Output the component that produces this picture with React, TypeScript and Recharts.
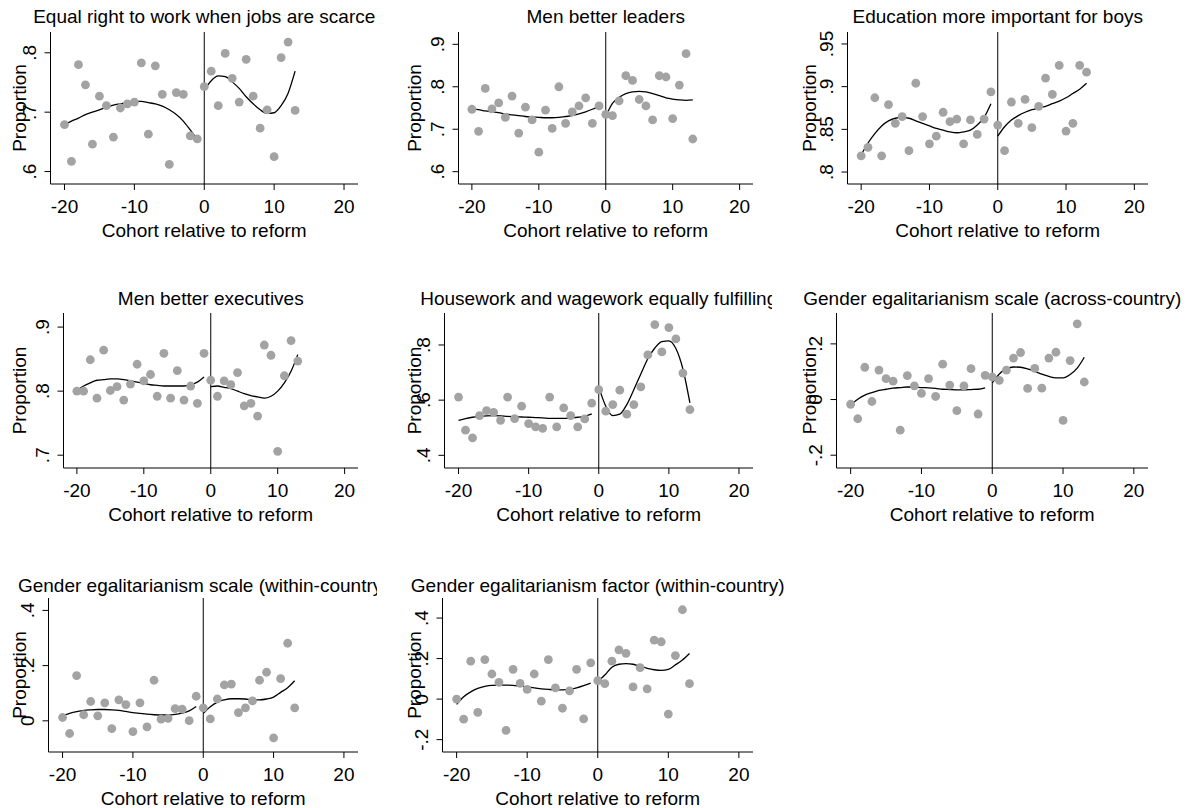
import { ComposedChart, Scatter, Line, XAxis, YAxis, ReferenceLine } from 'recharts'

const FONT = '"Liberation Sans", Arial, Helvetica, sans-serif'
const FS = 19

// cohort positions relative to the reform year
const cohorts = [-20, -19, -18, -17, -16, -15, -14, -13, -12, -11, -10, -9, -8, -7, -6, -5, -4, -3, -2, -1, 0, 1, 2, 3, 4, 5, 6, 7, 8, 9, 10, 11, 12, 13]
const cohortsPre = [-20, -19, -18, -17, -16, -15, -14, -13, -12, -11, -10, -9, -8, -7, -6, -5, -4, -3, -2, -1]
const cohortsPost = [0, 1, 2, 3, 4, 5, 6, 7, 8, 9, 10, 11, 12, 13]
const xTicks = [-20, -10, 0, 10, 20]

// Equal right to work when jobs are scarce
const equalRightPts = [0.679, 0.617, 0.78, 0.746, 0.646, 0.727, 0.711, 0.658, 0.707, 0.714, 0.717, 0.783, 0.663, 0.778, 0.73, 0.612, 0.733, 0.73, 0.66, 0.655, 0.743, 0.769, 0.711, 0.799, 0.757, 0.717, 0.789, 0.727, 0.673, 0.704, 0.625, 0.792, 0.818, 0.703]
const equalRightPre = [0.679, 0.685, 0.69, 0.696, 0.7, 0.704, 0.708, 0.712, 0.714, 0.716, 0.718, 0.718, 0.716, 0.714, 0.71, 0.704, 0.696, 0.685, 0.67, 0.654]
const equalRightPost = [0.737, 0.753, 0.761, 0.76, 0.751, 0.74, 0.726, 0.714, 0.704, 0.698, 0.699, 0.711, 0.732, 0.769]

// Men better leaders
const leadersPts = [0.747, 0.695, 0.796, 0.748, 0.762, 0.728, 0.778, 0.691, 0.752, 0.722, 0.646, 0.745, 0.702, 0.8, 0.714, 0.741, 0.755, 0.774, 0.714, 0.755, 0.735, 0.732, 0.767, 0.826, 0.815, 0.77, 0.755, 0.722, 0.826, 0.823, 0.725, 0.804, 0.878, 0.677]
const leadersPre = [0.748, 0.746, 0.743, 0.741, 0.739, 0.736, 0.734, 0.732, 0.73, 0.729, 0.728, 0.727, 0.727, 0.728, 0.73, 0.732, 0.736, 0.741, 0.747, 0.754]
const leadersPost = [0.73, 0.761, 0.775, 0.784, 0.788, 0.789, 0.788, 0.784, 0.779, 0.774, 0.771, 0.769, 0.768, 0.769]

// Education more important for boys
const eduPts = [0.819, 0.829, 0.887, 0.819, 0.879, 0.857, 0.865, 0.825, 0.904, 0.865, 0.833, 0.842, 0.87, 0.859, 0.862, 0.833, 0.861, 0.844, 0.862, 0.894, 0.855, 0.825, 0.882, 0.857, 0.885, 0.852, 0.877, 0.91, 0.891, 0.925, 0.848, 0.857, 0.925, 0.917]
const eduPre = [0.82, 0.834, 0.845, 0.854, 0.86, 0.863, 0.864, 0.863, 0.86, 0.857, 0.854, 0.851, 0.849, 0.847, 0.846, 0.847, 0.849, 0.855, 0.864, 0.88]
const eduPost = [0.842, 0.853, 0.861, 0.866, 0.87, 0.873, 0.875, 0.877, 0.88, 0.883, 0.887, 0.892, 0.897, 0.904]

// Men better executives
const execPts = [0.8, 0.8, 0.849, 0.789, 0.864, 0.801, 0.807, 0.786, 0.811, 0.842, 0.816, 0.826, 0.792, 0.859, 0.789, 0.832, 0.786, 0.808, 0.781, 0.859, 0.817, 0.792, 0.816, 0.81, 0.829, 0.777, 0.781, 0.761, 0.872, 0.856, 0.706, 0.824, 0.879, 0.847]
const execPre = [0.801, 0.808, 0.813, 0.817, 0.818, 0.819, 0.819, 0.818, 0.816, 0.814, 0.812, 0.81, 0.809, 0.808, 0.808, 0.808, 0.808, 0.81, 0.814, 0.822]
const execPost = [0.807, 0.808, 0.806, 0.804, 0.8, 0.796, 0.793, 0.791, 0.789, 0.792, 0.8, 0.813, 0.831, 0.857]

// Housework and wagework equally fulfilling
const houseworkPts = [0.611, 0.491, 0.463, 0.544, 0.562, 0.556, 0.527, 0.611, 0.533, 0.578, 0.515, 0.503, 0.498, 0.611, 0.503, 0.572, 0.544, 0.503, 0.532, 0.589, 0.638, 0.56, 0.584, 0.636, 0.549, 0.584, 0.648, 0.764, 0.874, 0.775, 0.863, 0.822, 0.698, 0.566]
const houseworkPre = [0.527, 0.533, 0.538, 0.541, 0.543, 0.544, 0.543, 0.541, 0.54, 0.539, 0.538, 0.537, 0.536, 0.534, 0.534, 0.534, 0.536, 0.538, 0.541, 0.55]
const houseworkPost = [0.648, 0.578, 0.544, 0.549, 0.584, 0.638, 0.695, 0.75, 0.789, 0.812, 0.815, 0.787, 0.713, 0.59]

// Gender egalitarianism scale (across-country)
const acrossPts = [-0.017, -0.069, 0.116, -0.007, 0.106, 0.075, 0.066, -0.11, 0.086, 0.049, 0.022, 0.075, 0.011, 0.127, 0.052, -0.04, 0.049, 0.111, -0.052, 0.087, 0.081, 0.069, 0.106, 0.149, 0.169, 0.04, 0.112, 0.041, 0.149, 0.17, -0.075, 0.14, 0.272, 0.063]
const acrossPre = [-0.019, 0.001, 0.016, 0.025, 0.033, 0.037, 0.041, 0.043, 0.045, 0.045, 0.043, 0.042, 0.04, 0.037, 0.036, 0.035, 0.035, 0.036, 0.037, 0.042]
const acrossPost = [0.06, 0.092, 0.11, 0.117, 0.116, 0.11, 0.101, 0.091, 0.083, 0.078, 0.078, 0.09, 0.113, 0.152]

// Gender egalitarianism scale (within-country)
const withinPts = [0.012, -0.046, 0.164, 0.022, 0.07, 0.018, 0.065, -0.028, 0.076, 0.059, -0.039, 0.065, -0.022, 0.147, 0.006, 0.009, 0.044, 0.042, 0.001, 0.089, 0.047, 0.007, 0.079, 0.13, 0.133, 0.03, 0.047, 0.072, 0.147, 0.176, -0.062, 0.153, 0.281, 0.047]
const withinPre = [0.018, 0.027, 0.033, 0.038, 0.04, 0.041, 0.041, 0.04, 0.038, 0.034, 0.03, 0.027, 0.024, 0.022, 0.021, 0.021, 0.023, 0.028, 0.036, 0.052]
const withinPost = [0.027, 0.051, 0.068, 0.076, 0.08, 0.08, 0.079, 0.076, 0.076, 0.079, 0.086, 0.103, 0.12, 0.145]

// Gender egalitarianism factor (within-country)
const factorPts = [0.0, -0.099, 0.187, -0.065, 0.195, 0.124, 0.083, -0.154, 0.147, 0.078, 0.048, 0.124, -0.01, 0.195, 0.055, -0.045, 0.041, 0.147, -0.098, 0.179, 0.091, 0.076, 0.187, 0.243, 0.226, 0.06, 0.155, 0.051, 0.291, 0.283, -0.074, 0.215, 0.441, 0.076]
const factorPre = [-0.026, 0.012, 0.036, 0.053, 0.063, 0.068, 0.069, 0.069, 0.068, 0.064, 0.06, 0.055, 0.051, 0.048, 0.046, 0.046, 0.048, 0.055, 0.066, 0.079]
const factorPost = [0.086, 0.119, 0.157, 0.172, 0.175, 0.172, 0.162, 0.152, 0.145, 0.142, 0.147, 0.169, 0.193, 0.225]

function fmtTick(v: number): string {
  if (v === 0) return '0'
  return String(v).replace('0.', '.')
}

function toPoints(xs: number[], ys: number[]) {
  return xs.map((x, i) => ({ x, y: ys[i] }))
}

interface PanelProps {
  title: string
  px: number
  py: number
  width: number
  height: number
  clipWidth?: number
  plotLeft: number
  plotTop: number
  plotRight: number
  plotBottom: number
  titleY: number
  yDomain: [number, number]
  yTicks: number[]
  pts: number[]
  pre: number[]
  post: number[]
}

function Panel(p: PanelProps) {
  const left = p.plotLeft - p.px
  const top = p.plotTop - p.py
  const right = p.width - (p.plotRight - p.px)
  const xAxisH = p.height - (p.plotBottom - p.py)
  const midX = (p.plotLeft + p.plotRight) / 2 - p.px
  const midY = (p.plotTop + p.plotBottom) / 2 - p.py
  const axisY = p.plotBottom - p.py

  const xTick = (props: any) => (
    <text x={props.x} y={props.y} dy={16} textAnchor="middle" dominantBaseline="central" fontSize={FS} fontFamily={FONT} fill="#000">
      {props.payload.value}
    </text>
  )
  const yTick = (props: any) => {
    const cx = props.x - 15
    return (
      <text x={cx} y={props.y} transform={`rotate(-90, ${cx}, ${props.y})`} textAnchor="middle" dominantBaseline="central" fontSize={FS} fontFamily={FONT} fill="#000">
        {fmtTick(props.payload.value)}
      </text>
    )
  }

  return (
    <div style={{ position: 'absolute', left: p.px, top: p.py, width: p.clipWidth ?? p.width, height: p.height, overflow: 'hidden' }}>
      <div style={{ position: 'absolute', left: midX, top: p.titleY - 11, lineHeight: '22px', transform: 'translateX(-50%)', whiteSpace: 'nowrap', fontFamily: FONT, fontSize: FS, color: '#000' }}>
        {p.title}
      </div>
      <ComposedChart width={p.width} height={p.height} margin={{ top, right, bottom: 0, left: 0 }}>
        <XAxis
          type="number"
          dataKey="x"
          domain={[-22, 22]}
          ticks={xTicks}
          allowDataOverflow
          height={xAxisH}
          tickSize={6}
          tickMargin={0}
          stroke="#000"
          tick={xTick}
          label={() => (
            <text x={midX} y={axisY + 46} textAnchor="middle" dominantBaseline="central" fontSize={FS} fontFamily={FONT} fill="#000">
              Cohort relative to reform
            </text>
          )}
        />
        <YAxis
          type="number"
          dataKey="y"
          width={left}
          domain={p.yDomain}
          ticks={p.yTicks}
          allowDataOverflow
          tickSize={6}
          tickMargin={0}
          stroke="#000"
          tick={yTick}
          label={() => (
            <text x={19} y={midY} transform={`rotate(-90, 19, ${midY})`} textAnchor="middle" dominantBaseline="central" fontSize={FS} fontFamily={FONT} fill="#000">
              Proportion
            </text>
          )}
        />
        <ReferenceLine x={0} stroke="#000" strokeWidth={1} ifOverflow="extendDomain" />
        <Scatter
          data={toPoints(cohorts, p.pts)}
          dataKey="y"
          isAnimationActive={false}
          shape={(s: any) => <circle cx={s.cx} cy={s.cy} r={4.4} fill="#a3a3a3" />}
        />
        <Line data={toPoints(cohortsPre, p.pre)} dataKey="y" type="monotone" stroke="#000" strokeWidth={1.3} dot={false} isAnimationActive={false} />
        <Line data={toPoints(cohortsPost, p.post)} dataKey="y" type="monotone" stroke="#000" strokeWidth={1.3} dot={false} isAnimationActive={false} />
      </ComposedChart>
    </div>
  )
}

const panels: PanelProps[] = [
  { title: 'Equal right to work when jobs are scarce', px: 0, py: 0, width: 395, height: 245, clipWidth: 377, plotLeft: 50.5, plotTop: 32, plotRight: 358, plotBottom: 184, titleY: 16.7, yDomain: [0.579, 0.835], yTicks: [0.6, 0.7, 0.8], pts: equalRightPts, pre: equalRightPre, post: equalRightPost },
  { title: 'Men better leaders', px: 395, py: 0, width: 395, height: 245, plotLeft: 458.5, plotTop: 32, plotRight: 753, plotBottom: 184, titleY: 16.7, yDomain: [0.571, 0.929], yTicks: [0.6, 0.7, 0.8, 0.9], pts: leadersPts, pre: leadersPre, post: leadersPost },
  { title: 'Education more important for boys', px: 790, py: 0, width: 403, height: 245, plotLeft: 847.5, plotTop: 32, plotRight: 1148, plotBottom: 184, titleY: 16.7, yDomain: [0.786, 0.964], yTicks: [0.8, 0.85, 0.9, 0.95], pts: eduPts, pre: eduPre, post: eduPost },
  { title: 'Men better executives', px: 0, py: 280, width: 395, height: 245, plotLeft: 63.5, plotTop: 313, plotRight: 358, plotBottom: 468, titleY: 19.3, yDomain: [0.68, 0.922], yTicks: [0.7, 0.8, 0.9], pts: execPts, pre: execPre, post: execPost },
  { title: 'Housework and wagework equally fulfilling', px: 395, py: 280, width: 395, height: 245, clipWidth: 377, plotLeft: 444.5, plotTop: 313, plotRight: 753, plotBottom: 468, titleY: 19.3, yDomain: [0.354, 0.916], yTicks: [0.4, 0.6, 0.8], pts: houseworkPts, pre: houseworkPre, post: houseworkPost },
  { title: 'Gender egalitarianism scale (across-country)', px: 790, py: 280, width: 403, height: 245, plotLeft: 836.5, plotTop: 313, plotRight: 1148, plotBottom: 468, titleY: 19.3, yDomain: [-0.246, 0.311], yTicks: [-0.2, 0, 0.2], pts: acrossPts, pre: acrossPre, post: acrossPost },
  { title: 'Gender egalitarianism scale (within-country)', px: 0, py: 565, width: 395, height: 243, clipWidth: 377, plotLeft: 48.5, plotTop: 598, plotRight: 358, plotBottom: 752, titleY: 20.7, yDomain: [-0.113, 0.445], yTicks: [0, 0.2, 0.4], pts: withinPts, pre: withinPre, post: withinPost },
  { title: 'Gender egalitarianism factor (within-country)', px: 395, py: 565, width: 395, height: 243, plotLeft: 442.5, plotTop: 598, plotRight: 753, plotBottom: 752, titleY: 20.7, yDomain: [-0.261, 0.499], yTicks: [-0.2, 0, 0.2, 0.4], pts: factorPts, pre: factorPre, post: factorPost },
]

export default function App() {
  return (
    <div style={{ position: 'absolute', left: 0, top: 0, width: 1193, height: 808, background: '#fff', overflow: 'hidden' }}>
      {panels.map((p) => (
        <Panel key={p.title} {...p} />
      ))}
    </div>
  )
}
